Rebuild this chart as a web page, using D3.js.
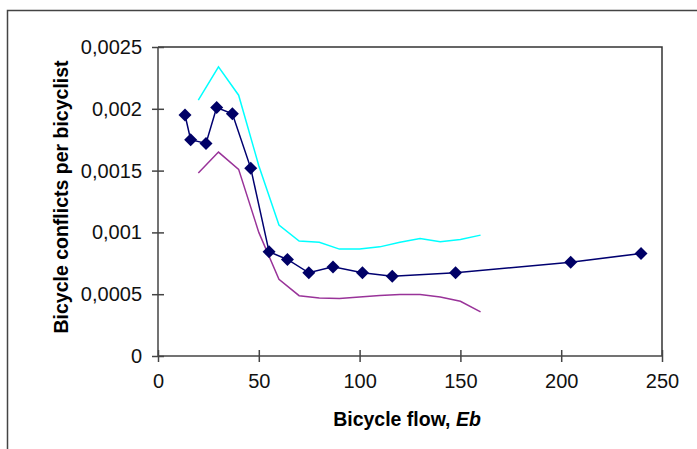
<!DOCTYPE html>
<html>
<head>
<meta charset="utf-8">
<script src="https://cdn.jsdelivr.net/npm/d3@7"></script>
<style>
  body { margin: 0; background: #fff; }
  svg { display: block; font-family: "Liberation Sans", Arial, sans-serif; }
</style>
</head>
<body>
<svg width="697" height="449"></svg>
<script>
// observed points (diamonds)
var flowObs = [13.4, 16.2, 23.8, 29.1, 36.9, 46, 55.1, 64.2, 74.8, 86.8, 101.4, 116.2, 147.6, 204.7, 239.6]
var conflictObs = [0.00195, 0.00175, 0.00172, 0.00201, 0.00196, 0.00152, 0.000843, 0.000781, 0.000673, 0.000721, 0.000673, 0.000646, 0.000673, 0.000759, 0.00083]

// upper / lower band
var bandFlow = [20, 30, 40, 50, 60, 70, 80, 90, 100, 110, 120, 130, 140, 150, 160]
var upper = [0.00207, 0.00234, 0.00211, 0.00154, 0.00106, 0.00093, 0.00092, 0.000865, 0.000865, 0.000883, 0.00092, 0.00095, 0.000924, 0.000943, 0.000978]
var lower = [0.00148, 0.00165, 0.00151, 0.00100, 0.00062, 0.000488, 0.00047, 0.000465, 0.000478, 0.00049, 0.000497, 0.000497, 0.000478, 0.000443, 0.000357]

var xTicks = [0, 50, 100, 150, 200, 250]
var yTicks = [0, 0.0005, 0.001, 0.0015, 0.002, 0.0025]

var svg = d3.select("svg")

// outer frame, runs off the picture on the right and bottom
svg.append("rect")
  .attr("x", 7.5).attr("y", 10.5)
  .attr("width", 760).attr("height", 500)
  .style("fill", "none").style("stroke", "#444").style("stroke-width", 1.5)

var x = d3.scaleLinear().domain([0, 250]).range([158, 662])
var y = d3.scaleLinear().domain([0, 0.0025]).range([356, 47])

// top and right border of plot area
svg.append("path")
  .attr("d", "M" + x(0) + "," + y(0.0025) + "H" + x(250) + "V" + y(0))
  .style("fill", "none").style("stroke", "#333").style("stroke-width", 1.5)

function comma(d) { return d === 0 ? "0" : String(d).replace(".", ",") }

var yAxis = svg.append("g")
  .attr("transform", "translate(" + x(0) + ",0)")
  .call(d3.axisLeft(y).tickValues(yTicks).tickFormat(comma).tickSize(6).tickPadding(10))
var xAxis = svg.append("g")
  .attr("transform", "translate(0," + y(0) + ")")
  .call(d3.axisBottom(x).tickValues(xTicks).tickFormat(d3.format("d")).tickSize(6).tickPadding(12))

// ticks cross the axis line
yAxis.selectAll(".tick line").attr("x1", 6)
xAxis.selectAll(".tick line").attr("y1", -6)
svg.selectAll(".domain").attr("d", null)
yAxis.append("line").attr("y1", y(0)).attr("y2", y(0.0025))
xAxis.append("line").attr("x1", x(0)).attr("x2", x(250))
svg.selectAll("g line").style("stroke", "#444").style("stroke-width", 1.5)
svg.selectAll(".tick text").style("font-size", "20px").style("fill", "#111")
  .style("font-family", "'Liberation Sans', Arial, sans-serif")

var line = d3.line()

svg.append("path")
  .datum(bandFlow.map(function(d, i) { return [x(d), y(upper[i])] }))
  .attr("d", line)
  .style("fill", "none").style("stroke", "#00ffff").style("stroke-width", 1.5)

svg.append("path")
  .datum(bandFlow.map(function(d, i) { return [x(d), y(lower[i])] }))
  .attr("d", line)
  .style("fill", "none").style("stroke", "#993399").style("stroke-width", 1.5)

svg.append("path")
  .datum(flowObs.map(function(d, i) { return [x(d), y(conflictObs[i])] }))
  .attr("d", line)
  .style("fill", "none").style("stroke", "#000070").style("stroke-width", 1.5)

svg.selectAll("path.dot")
  .data(flowObs)
  .enter().append("path")
    .attr("class", "dot")
    .attr("transform", function(d, i) { return "translate(" + x(d) + "," + y(conflictObs[i]) + ")" })
    .attr("d", "M0,-6.5L6.5,0L0,6.5L-6.5,0Z")
    .style("fill", "#000066")

// axis titles
svg.append("text")
  .attr("transform", "translate(61,197) rotate(-90)")
  .attr("text-anchor", "middle").attr("dominant-baseline", "central")
  .style("font-size", "19.5px").style("font-weight", "bold")
  .text("Bicycle conflicts per bicyclist")

var xt = svg.append("text")
  .attr("x", 407).attr("y", 419)
  .attr("text-anchor", "middle").attr("dominant-baseline", "central")
  .style("font-size", "19.5px").style("font-weight", "bold")
xt.append("tspan").text("Bicycle flow, ")
xt.append("tspan").style("font-style", "italic").text("Eb")
</script>
</body>
</html>
